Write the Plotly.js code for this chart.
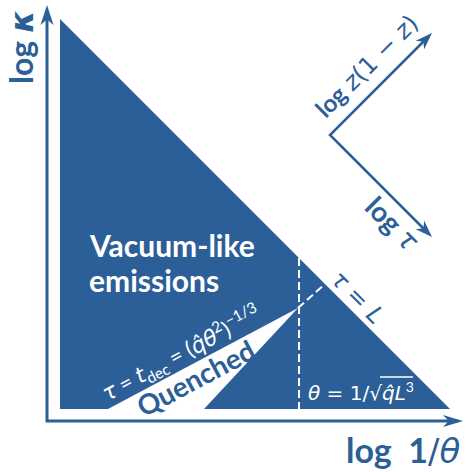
<!DOCTYPE html>
<html>
<head>
<meta charset="utf-8">
<script src="https://cdn.plot.ly/plotly-3.0.1.min.js"></script>
<style>html,body{margin:0;padding:0;background:#fff;}#chart{width:467px;height:472px;}</style>
</head>
<body>
<div id="chart"></div>
<script>
// ---- data (diagram coordinates: x = log 1/theta, y = log kappa, arbitrary units) ----
const regionX = [60, 60, 450];          // vacuum-like emission triangle
const regionY = [453, 63, 63];
const quenchedX = [108, 298, 204];      // quenched wedge
const quenchedY = [63, 164, 63];
const thetaCutX = [299, 299];           // theta = 1/sqrt(qhat L^3)
const thetaCutY = [214, 63];
const tauLX = [298, 325];               // tau = L
const tauLY = [164, 188];
const axisX = [47, 47, 458];            // main axes (shaft)
const axisY = [462, 51, 51];
const crossX = [427, 330, 427];         // log z(1-z) / log tau directions
const crossY = [434, 337, 240];
// arrow tips and directions (deg), head length, half width
const arrowTipX = [47, 463, 432, 432];
const arrowTipY = [467, 51, 439, 235];
const arrowDir = [90, 0, 45, -45];
const arrowLen = [20, 20, 17, 17];
const arrowHalf = [6.5, 6, 6, 6];

function M(s, bold) {
  return '<span style="font-family:\'DejaVu Sans\';font-style:italic' + (bold ? ';font-weight:bold' : ';font-weight:normal') + '">' + s + '</span>';
}
function D(s) {
  return '<span style="font-family:\'DejaVu Sans\';font-weight:normal">' + s + '</span>';
}

const labels = [
  {t: '<b>log</b> ' + M('κ', true), x: 21, y: 425, a: -90, s: 32, c: 'blue'},
  {t: '<b>log  1</b>' + D('/') + M('θ'), x: 403, y: 22, a: 0, s: 34, c: 'blue'},
  {t: '<b>log</b> ' + M('z') + D('(1 − ') + M('z') + D(')'), x: 366, y: 406, a: -45, s: 24, c: 'blue'},
  {t: '<b>log</b> ' + M('τ'), x: 393, y: 249, a: 45, s: 28, c: 'blue'},
  {t: '<b>Vacuum-like</b>', x: 87, y: 227, a: 0, s: 30, c: 'white', left: true},
  {t: '<b>emissions</b>', x: 87, y: 192, a: 0, s: 30, c: 'white', left: true},
  {t: M('τ') + ' = ' + M('t') + '<sub>dec</sub> = (' + M('q\u0302θ') + '<sup>2</sup>)<sup>−1/3</sup>', x: 181, y: 119, a: -28, s: 22, c: 'white'},
  {t: '<b>Quenched</b>', x: 195, y: 94, a: -28, s: 28, c: 'blue'},
  {t: M('τ') + D(' = ') + M('L'), x: 357, y: 175, a: 45, s: 24, c: 'blue'},
  {t: M('θ') + D(' = 1/√') + M('q\u0302L') + '<sup>3</sup>', x: 361, y: 81, a: 0, s: 20, c: 'white'}
];

const BLUE = '#2c5f98';
const FONT = 'Lato, "DejaVu Sans", sans-serif';

const traces = [];
function lineTrace(x, y, color, width, dash) {
  return {x: x, y: y, mode: 'lines', type: 'scatter', hoverinfo: 'skip',
          line: {color: color, width: width, dash: dash || 'solid'}};
}
function fillTrace(x, y, color) {
  return {x: x.concat([x[0]]), y: y.concat([y[0]]), mode: 'lines', type: 'scatter',
          fill: 'toself', fillcolor: color, hoverinfo: 'skip', line: {width: 0, color: color}};
}
traces.push(fillTrace(regionX, regionY, BLUE));
traces.push(fillTrace(quenchedX, quenchedY, '#ffffff'));
traces.push(lineTrace(thetaCutX, thetaCutY, '#ffffff', 2, '8px,4px'));
traces.push(lineTrace(tauLX, tauLY, '#ffffff', 2, '8px,4px'));
traces.push(lineTrace(axisX, axisY, BLUE, 3));
traces.push(lineTrace(crossX, crossY, BLUE, 2.5));
for (let i = 0; i < arrowTipX.length; i++) {
  const r = arrowDir[i] * Math.PI / 180;
  const dx = Math.cos(r), dy = Math.sin(r), nx = -dy, ny = dx;
  const L = arrowLen[i], W = arrowHalf[i];
  const tx = arrowTipX[i], ty = arrowTipY[i];
  const hx = [tx, tx - L * dx + W * nx, tx - 0.72 * L * dx, tx - L * dx - W * nx];
  const hy = [ty, ty - L * dy + W * ny, ty - 0.72 * L * dy, ty - L * dy - W * ny];
  traces.push(fillTrace(hx, hy, BLUE));
}

const annotations = labels.map(l => ({
  text: l.t, x: l.x, y: l.y, xref: 'x', yref: 'y', showarrow: false,
  textangle: l.a, xanchor: l.left ? 'left' : 'center', yanchor: 'middle',
  font: {family: FONT, size: l.s, color: l.c === 'blue' ? BLUE : '#ffffff'}
}));

// vinculum of the square root in the theta label
const th = labels[9];
const shapes = [{type: 'line', xref: 'x', yref: 'y', x0: th.x + 19, x1: th.x + 52, y0: th.y + 14, y1: th.y + 14,
                 line: {color: '#ffffff', width: 1.3}}];

const layout = {
  width: 467, height: 472, margin: {l: 0, r: 0, t: 0, b: 0},
  paper_bgcolor: '#ffffff', plot_bgcolor: '#ffffff', showlegend: false,
  xaxis: {range: [0, 467], visible: false, fixedrange: true},
  yaxis: {range: [0, 472], visible: false, fixedrange: true},
  annotations: annotations, shapes: shapes
};
Plotly.newPlot('chart', traces, layout, {staticPlot: true, displayModeBar: false});
</script>
</body>
</html>
